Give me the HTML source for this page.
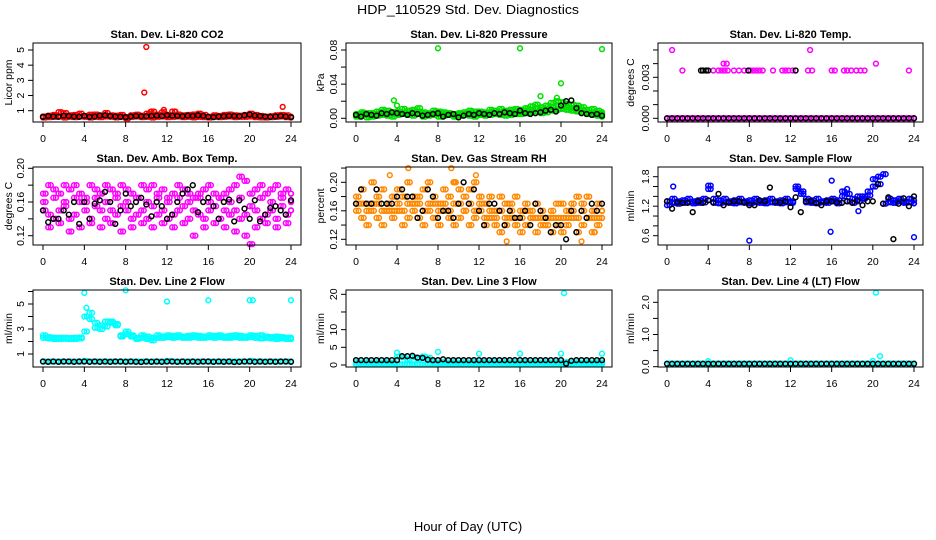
<!DOCTYPE html>
<html><head><meta charset="utf-8"><style>
html,body{margin:0;padding:0;background:#fff;}
svg{display:block;font-family:"Liberation Sans",Arial,sans-serif;}
</style></head><body>
<svg id="chart" width="936" height="540" viewBox="0 0 936 540" xmlns="http://www.w3.org/2000/svg">
<rect x="0" y="0" width="936" height="540" fill="#fff"/>
<text x="468" y="14" font-size="13" text-anchor="middle" textLength="222" lengthAdjust="spacingAndGlyphs">HDP_110529  Std. Dev. Diagnostics</text>
<text x="468" y="531" font-size="13" text-anchor="middle">Hour of Day (UTC)</text>
</svg>
<script>
const hours = [0,0.5,1,1.5,2,2.5,3,3.5,4,4.5,5,5.5,6,6.5,7,7.5,8,8.5,9,9.5,10,10.5,11,11.5,12,12.5,13,13.5,14,14.5,15,15.5,16,16.5,17,17.5,18,18.5,19,19.5,20,20.5,21,21.5,22,22.5,23,23.5,24];
const hoursQ = [0.25,0.75,1.25,1.75,2.25,2.75,3.25,3.75,4.25,4.75,5.25,5.75,6.25,6.75,7.25,7.75,8.25,8.75,9.25,9.75,10.25,10.75,11.25,11.75,12.25,12.75,13.25,13.75,14.25,14.75,15.25,15.75,16.25,16.75,17.25,17.75,18.25,18.75,19.25,19.75,20.25,20.75,21.25,21.75,22.25,22.75,23.25,23.75,24];
const xTicks = [0,4,8,12,16,20,24];

// CO2
const co2RedA = [0.62,0.68,0.72,0.9,0.85,0.7,0.72,0.8,0.66,0.74,0.75,0.7,0.85,0.7,0.68,0.72,0.5,0.7,0.74,0.68,0.8,0.95,0.75,0.9,0.72,0.95,0.75,0.7,0.72,0.75,0.8,0.72,0.6,0.7,0.66,0.72,0.75,0.7,0.68,0.72,0.8,0.72,0.66,0.6,0.64,0.7,0.72,0.7,0.6];
const co2RedB = [0.55,0.58,0.6,0.62,0.55,0.6,0.58,0.62,0.6,0.55,0.6,0.58,0.62,0.6,0.56,0.6,0.58,0.6,0.62,0.58,0.6,0.55,0.6,0.62,0.58,0.6,0.62,0.58,0.6,0.56,0.6,0.58,0.55,0.6,0.58,0.6,0.62,0.58,0.6,0.6,0.62,0.58,0.56,0.55,0.58,0.6,0.62,0.58,0.55];
const co2OutTimes = [9.8,10,11.7,12.8,10.4,23.2];
const co2OutVals = [2.2,5.2,1.05,0.95,0.92,1.25];
const co2Black = [0.6,0.65,0.62,0.6,0.68,0.65,0.62,0.6,0.66,0.6,0.62,0.68,0.7,0.65,0.62,0.6,0.58,0.62,0.65,0.63,0.64,0.66,0.68,0.65,0.7,0.68,0.66,0.64,0.68,0.65,0.7,0.66,0.6,0.58,0.62,0.64,0.66,0.65,0.64,0.7,0.75,0.68,0.65,0.62,0.6,0.62,0.65,0.62,0.58];

// Pressure
const presGreenA = [0.005,0.007,0.006,0.004,0.008,0.01,0.009,0.007,0.008,0.011,0.009,0.01,0.012,0.007,0.006,0.009,0.008,0.007,0.006,0.005,0.006,0.007,0.009,0.008,0.008,0.007,0.01,0.009,0.011,0.009,0.01,0.011,0.01,0.012,0.014,0.016,0.013,0.015,0.018,0.02,0.019,0.017,0.016,0.015,0.013,0.01,0.011,0.009,0.007];
const presGreenB = [0.002,0.003,0.001,0.002,0.003,0.004,0.003,0.002,0.004,0.005,0.004,0.003,0.005,0.002,0.003,0.004,0.002,0.003,0.004,0.002,0.003,0.004,0.003,0.002,0.004,0.003,0.004,0.005,0.004,0.003,0.004,0.005,0.005,0.006,0.007,0.008,0.006,0.007,0.009,0.01,0.011,0.01,0.009,0.008,0.007,0.005,0.004,0.003,0.002];
const presGreenC = [0.004,0.005,0.004,0.006,0.005,0.007,0.006,0.005,0.006,0.007,0.006,0.007,0.008,0.005,0.004,0.006,0.005,0.005,0.004,0.004,0.005,0.005,0.006,0.005,0.006,0.005,0.007,0.006,0.007,0.006,0.007,0.008,0.007,0.009,0.01,0.012,0.01,0.011,0.013,0.015,0.014,0.013,0.012,0.011,0.01,0.007,0.007,0.006,0.005];
const presOutTimes = [3.7,4,8,16,18,19.6,20,24];
const presOutVals = [0.021,0.015,0.082,0.082,0.026,0.024,0.041,0.081];
const presBlack = [0.004,0.002,0.005,0.004,0.003,0.006,0.005,0.007,0.006,0.005,0.004,0.006,0.005,0.003,0.004,0.005,0.006,0.002,0.004,0.005,0.001,0.003,0.005,0.004,0.006,0.005,0.004,0.006,0.005,0.007,0.006,0.005,0.009,0.006,0.005,0.006,0.007,0.009,0.01,0.008,0.015,0.02,0.021,0.012,0.006,0.005,0.004,0.005,0.003];

// Li-820 Temp
const tempMagZero = [0,0,0,0,0,0,0,0,0,0,0,0,0,0,0,0,0,0,0,0,0,0,0,0,0,0,0,0,0,0,0,0,0,0,0,0,0,0,0,0,0,0,0,0,0,0,0,0,0];
const tempMagHiTimes = [0.5,1.5,4.5,5,5.3,5.5,5.6,5.8,5.9,6.5,7,7.5,8.1,8.4,8.7,9,9.3,10.3,11.2,11.5,11.8,12.2,13.7,13.9,14.1,16,16.3,17.2,17.5,17.9,18.4,18.8,19.2,20.3,23.5];
const tempMagHiVals = [0.005,0.0035,0.0035,0.0035,0.0035,0.004,0.0035,0.004,0.0035,0.0035,0.0035,0.0035,0.0035,0.0035,0.0035,0.0035,0.0035,0.0035,0.0035,0.0035,0.0035,0.0035,0.0035,0.005,0.0035,0.0035,0.0035,0.0035,0.0035,0.0035,0.0035,0.0035,0.0035,0.004,0.0035];
const tempBlackZero = [0,0,0,0,0,0,0,0,0,0,0,0,0,0,0,0,0,0,0,0,0,0,0,0,0,0,0,0,0,0,0,0,0,0,0,0,0,0,0,0,0,0,0,0,0,0,0,0,0];
const tempBlackHiTimes = [3.3,3.5,3.8,4,7.9,12.5];
const tempBlackHiVals = [0.0035,0.0035,0.0035,0.0035,0.0035,0.0035];

// Amb box temp
const ambMagA = [0.17,0.18,0.175,0.17,0.18,0.175,0.18,0.17,0.165,0.18,0.175,0.17,0.18,0.175,0.17,0.18,0.175,0.17,0.165,0.18,0.175,0.18,0.17,0.175,0.165,0.17,0.18,0.175,0.17,0.165,0.17,0.175,0.18,0.17,0.165,0.17,0.175,0.18,0.19,0.185,0.17,0.175,0.18,0.17,0.175,0.18,0.17,0.175,0.17];
const ambMagB = [0.15,0.145,0.14,0.15,0.155,0.14,0.145,0.16,0.15,0.14,0.155,0.15,0.14,0.15,0.145,0.155,0.15,0.14,0.145,0.15,0.14,0.155,0.145,0.15,0.14,0.145,0.15,0.155,0.14,0.15,0.145,0.14,0.15,0.155,0.14,0.15,0.145,0.15,0.14,0.145,0.155,0.15,0.14,0.145,0.15,0.14,0.155,0.145,0.15];
const ambMagC = [0.16,0.13,0.165,0.135,0.16,0.125,0.165,0.13,0.16,0.135,0.165,0.13,0.16,0.135,0.165,0.125,0.16,0.13,0.165,0.135,0.16,0.13,0.165,0.135,0.16,0.13,0.165,0.135,0.16,0.12,0.165,0.13,0.16,0.135,0.165,0.13,0.16,0.125,0.165,0.12,0.11,0.13,0.165,0.135,0.16,0.13,0.165,0.135,0.16];
const ambBlack = [0.15,0.136,0.14,0.14,0.15,0.145,0.16,0.134,0.16,0.14,0.158,0.162,0.172,0.16,0.134,0.15,0.17,0.155,0.16,0.165,0.157,0.143,0.16,0.155,0.14,0.145,0.16,0.17,0.175,0.18,0.148,0.16,0.165,0.155,0.14,0.16,0.163,0.137,0.162,0.152,0.14,0.162,0.137,0.145,0.153,0.155,0.15,0.145,0.162];

// Gas stream RH
const rhA = [0.18,0.19,0.17,0.2,0.18,0.19,0.17,0.18,0.19,0.18,0.2,0.17,0.18,0.19,0.2,0.18,0.17,0.19,0.18,0.2,0.19,0.18,0.19,0.2,0.18,0.17,0.18,0.16,0.18,0.17,0.17,0.18,0.16,0.17,0.16,0.17,0.16,0.15,0.16,0.17,0.17,0.16,0.17,0.18,0.17,0.18,0.16,0.17,0.16];
const rhB = [0.16,0.15,0.14,0.16,0.15,0.14,0.16,0.15,0.16,0.14,0.15,0.16,0.15,0.14,0.16,0.15,0.14,0.16,0.15,0.14,0.15,0.16,0.14,0.15,0.16,0.14,0.15,0.14,0.13,0.14,0.15,0.14,0.13,0.14,0.15,0.13,0.14,0.15,0.13,0.14,0.13,0.14,0.15,0.13,0.14,0.15,0.13,0.14,0.15];
const rhC = [0.17,0.17,0.16,0.17,0.17,0.16,0.17,0.16,0.17,0.16,0.17,0.18,0.17,0.16,0.17,0.17,0.16,0.17,0.16,0.17,0.17,0.16,0.17,0.16,0.17,0.15,0.16,0.15,0.16,0.15,0.16,0.15,0.15,0.16,0.15,0.15,0.15,0.14,0.15,0.15,0.15,0.15,0.16,0.15,0.16,0.15,0.15,0.15,0.16];
const rhOutTimes = [3.3,5.1,9.3,9.6,11.7,14.7,22,23.3];
const rhOutVals = [0.21,0.22,0.22,0.2,0.21,0.117,0.117,0.13];
const rhBlack = [0.17,0.19,0.17,0.17,0.19,0.17,0.17,0.17,0.18,0.19,0.18,0.18,0.15,0.16,0.19,0.18,0.15,0.16,0.16,0.15,0.17,0.2,0.17,0.19,0.16,0.14,0.17,0.17,0.16,0.14,0.16,0.15,0.15,0.16,0.14,0.17,0.16,0.15,0.13,0.14,0.14,0.12,0.16,0.13,0.16,0.15,0.17,0.16,0.17];

// Sample flow
const sfBlueA = [1.3,1.35,1.3,1.32,1.35,1.3,1.32,1.35,1.55,1.35,1.32,1.35,1.3,1.32,1.35,1.3,1.32,1.35,1.3,1.32,1.35,1.3,1.32,1.35,1.3,1.55,1.5,1.35,1.32,1.35,1.3,1.32,1.35,1.32,1.5,1.45,1.35,1.4,1.35,1.5,1.6,1.8,1.85,1.35,1.32,1.35,1.3,1.35,1.32];
const sfBlueB = [1.22,1.27,1.25,1.27,1.28,1.26,1.27,1.28,1.62,1.27,1.26,1.28,1.27,1.26,1.28,1.27,1.26,1.28,1.27,1.26,1.28,1.27,1.26,1.28,1.27,1.6,1.45,1.28,1.27,1.26,1.28,1.27,1.3,1.26,1.4,1.3,1.27,1.3,1.4,1.42,1.75,1.65,1.25,1.28,1.27,1.3,1.27,1.28,1.26];
const sfOutTimes = [0.6,8,15.9,16,17.5,18.6,24];
const sfOutVals = [1.6,0.5,0.68,1.72,1.55,1.1,0.57];
const sfBlack = [1.3,1.15,1.28,1.27,1.27,1.08,1.3,1.27,1.32,1.28,1.45,1.22,1.28,1.3,1.3,1.28,1.22,1.22,1.32,1.3,1.58,1.29,1.28,1.3,1.18,1.38,1.08,1.3,1.3,1.27,1.22,1.3,1.3,1.28,1.27,1.3,1.27,1.32,1.22,1.3,1.3,1.65,1.25,1.38,0.53,1.25,1.36,1.2,1.4];

// Line 2 flow
const l2CyanA = [2.5,2.35,2.3,2.3,2.3,2.28,2.3,2.32,2.8,4.3,3.5,3.3,3.6,3.5,3.4,2.5,2.8,2.5,2.3,2.5,2.4,2.3,2.5,2.4,2.5,2.45,2.5,2.4,2.45,2.5,2.45,2.4,2.5,2.45,2.5,2.4,2.45,2.5,2.45,2.4,2.5,2.45,2.5,2.4,2.35,2.4,2.35,2.3,2.3];
const l2CyanB = [2.3,2.25,2.2,2.2,2.22,2.2,2.2,2.25,4.0,3.8,3.1,3.0,3.2,3.6,3.3,2.4,2.6,2.4,2.2,2.3,2.2,2.1,2.3,2.3,2.35,2.3,2.35,2.3,2.3,2.35,2.3,2.3,2.35,2.3,2.35,2.3,2.3,2.35,2.3,2.3,2.35,2.3,2.25,2.3,2.25,2.2,2.25,2.2,2.2];
const l2CyanLow = [0.4,0.4,0.4,0.4,0.4,0.4,0.4,0.4,0.45,0.4,0.4,0.4,0.4,0.4,0.4,0.4,0.4,0.4,0.4,0.4,0.4,0.4,0.4,0.4,0.45,0.4,0.4,0.4,0.4,0.4,0.4,0.4,0.4,0.4,0.4,0.4,0.4,0.4,0.4,0.4,0.45,0.4,0.4,0.4,0.4,0.4,0.4,0.4,0.4];
const l2OutTimes = [4,4.2,8,12,16,20,20.3,24];
const l2OutVals = [5.9,4.7,6.1,5.2,5.3,5.3,5.3,5.3];
const l2Black = [0.4,0.38,0.4,0.38,0.4,0.4,0.38,0.4,0.4,0.38,0.4,0.38,0.4,0.38,0.4,0.4,0.38,0.4,0.38,0.36,0.4,0.38,0.4,0.38,0.4,0.4,0.38,0.4,0.38,0.4,0.38,0.4,0.4,0.38,0.4,0.38,0.4,0.36,0.38,0.4,0.4,0.38,0.4,0.38,0.4,0.38,0.4,0.4,0.38];

// Line 3 flow
const l3CyanA = [0.2,0.2,0.2,0.2,0.2,0.2,0.2,0.2,0.2,0.2,0.2,0.2,0.2,0.2,0.2,0.2,0.2,0.2,0.2,0.2,0.2,0.2,0.2,0.2,0.2,0.2,0.2,0.2,0.2,0.2,0.2,0.2,0.2,0.2,0.2,0.2,0.2,0.2,0.2,0.2,0.2,0.2,0.2,0.2,0.2,0.2,0.2,0.2,0.2];
const l3CyanB = [0.8,0.7,0.8,0.7,0.8,0.7,0.8,0.7,2.4,2.2,1.6,2.2,1.8,2.4,2.0,0.8,0.7,0.8,0.7,0.8,0.7,0.8,0.7,0.8,0.7,0.8,0.7,0.8,0.7,0.8,0.7,0.8,0.7,0.8,0.7,0.8,0.7,0.8,0.7,0.8,0.7,0.8,0.7,0.8,0.7,0.8,0.7,0.8,0.7];
const l3OutTimes = [4,8,12,16,20,20.3,24];
const l3OutVals = [3.5,3.7,3.2,3.2,3.2,20.3,3.2];
const l3Black = [1.4,1.4,1.4,1.4,1.4,1.4,1.4,1.4,1.4,2.5,2.5,2.6,2.1,2.0,1.5,1.4,1.4,1.6,1.4,1.4,1.4,1.4,1.4,1.4,1.4,1.4,1.4,1.4,1.4,1.4,1.4,1.4,1.4,1.4,1.4,1.4,1.4,1.4,1.4,1.4,1.4,0.4,1.2,1.4,1.4,1.4,1.4,1.4,1.4];

// Line 4 flow
const l4Cyan = [0.1,0.1,0.1,0.1,0.1,0.1,0.1,0.1,0.1,0.1,0.1,0.1,0.1,0.1,0.1,0.1,0.1,0.1,0.1,0.1,0.1,0.1,0.1,0.1,0.1,0.1,0.1,0.1,0.1,0.1,0.1,0.1,0.1,0.1,0.1,0.1,0.1,0.1,0.1,0.1,0.1,0.1,0.1,0.1,0.1,0.1,0.1,0.1,0.1];
const l4OutTimes = [4,12,20,20.3,20.7];
const l4OutVals = [0.17,0.2,0.18,2.3,0.33];
const l4Black = [0.09,0.09,0.09,0.09,0.09,0.09,0.09,0.09,0.09,0.09,0.09,0.09,0.09,0.09,0.09,0.09,0.09,0.09,0.09,0.09,0.09,0.09,0.09,0.09,0.09,0.09,0.09,0.09,0.09,0.09,0.09,0.09,0.09,0.09,0.09,0.09,0.09,0.09,0.09,0.09,0.09,0.09,0.09,0.09,0.09,0.09,0.09,0.09,0.09];

const NS = "http://www.w3.org/2000/svg";
const svg = document.getElementById('chart');
function mk(tag, attrs, parent){ const e=document.createElementNS(NS,tag); for(const k in attrs) e.setAttribute(k,attrs[k]); (parent||svg).appendChild(e); return e; }

const cols = [{bl:33,br:301,x0:43,x24:291,lab:8},{bl:346,br:612,x0:356,x24:602,lab:320},{bl:658,br:923,x0:667,x24:914,lab:630}];
const rows = [{bt:43,bb:122},{bt:167,bb:245},{bt:290,bb:367}];

const panels = [
 {name:'co2',title:'Stan. Dev. Li-820 CO2',ylab:'Licor ppm',c:0,r:0,vA:1,pA:110.7,vB:5,pB:50,ticks:[1,2,3,4,5],labels:['1','2','3','4','5'],
  series:[['#ff0000',hours,co2RedB],['#ff0000',hoursQ,co2RedB],['#ff0000',hours,co2RedA],['#ff0000',hoursQ,co2RedA],['#ff0000',co2OutTimes,co2OutVals],['#000',hours,co2Black]]},
 {name:'pressure',title:'Stan. Dev. Li-820 Pressure',ylab:'kPa',c:1,r:0,vA:0,pA:118.3,vB:0.08,pB:50,ticks:[0,0.02,0.04,0.06,0.08],labels:['0.00','','0.04','','0.08'],
  series:[['#00e000',hours,presGreenB],['#00e000',hoursQ,presGreenB],['#00e000',hours,presGreenC],['#00e000',hoursQ,presGreenC],['#00e000',hours,presGreenA],['#00e000',hoursQ,presGreenA],['#00e000',presOutTimes,presOutVals],['#000',hours,presBlack]]},
 {name:'li820-temp',title:'Stan. Dev. Li-820 Temp.',ylab:'degrees C',c:2,r:0,vA:0,pA:118.3,vB:0.003,pB:77.3,ticks:[0,0.001,0.002,0.003,0.004,0.005],labels:['0.000','','','0.003','',''],
  series:[['#ff00ff',hours,tempMagZero],['#ff00ff',hoursQ,tempMagZero],['#ff00ff',tempMagHiTimes,tempMagHiVals],['#000',hours,tempBlackZero],['#000',tempBlackHiTimes,tempBlackHiVals]]},
 {name:'amb-box-temp',title:'Stan. Dev. Amb. Box Temp.',ylab:'degrees C',c:0,r:1,vA:0.12,pA:235.7,vB:0.2,pB:168.3,ticks:[0.12,0.14,0.16,0.18,0.2],labels:['0.12','','0.16','','0.20'],
  series:[['#ff00ff',hours,ambMagC],['#ff00ff',hoursQ,ambMagB],['#ff00ff',hours,ambMagB],['#ff00ff',hoursQ,ambMagA],['#ff00ff',hours,ambMagA],['#ff00ff',hoursQ,ambMagC],['#000',hours,ambBlack]]},
 {name:'gas-rh',title:'Stan. Dev. Gas Stream RH',ylab:'percent',c:1,r:1,vA:0.12,pA:239.3,vB:0.2,pB:182.3,ticks:[0.12,0.14,0.16,0.18,0.2,0.22],labels:['0.12','','0.16','','0.20',''],
  series:[['#ff8800',hours,rhB],['#ff8800',hoursQ,rhA],['#ff8800',hours,rhC],['#ff8800',hoursQ,rhB],['#ff8800',hours,rhA],['#ff8800',hoursQ,rhC],['#ff8800',rhOutTimes,rhOutVals],['#000',hours,rhBlack]]},
 {name:'sample-flow',title:'Stan. Dev. Sample Flow',ylab:'ml/min',c:2,r:1,vA:0.6,pA:235.7,vB:1.8,pB:176.7,ticks:[0.6,0.8,1,1.2,1.4,1.6,1.8],labels:['0.6','','','1.2','','','1.8'],
  series:[['#0000ff',hours,sfBlueB],['#0000ff',hoursQ,sfBlueB],['#0000ff',hours,sfBlueA],['#0000ff',hoursQ,sfBlueA],['#0000ff',sfOutTimes,sfOutVals],['#000',hours,sfBlack]]},
 {name:'line2-flow',title:'Stan. Dev. Line 2 Flow',ylab:'ml/min',c:0,r:2,vA:1,pA:354,vB:5,pB:304,ticks:[1,2,3,4,5,6],labels:['1','','3','','5',''],
  series:[['#00ffff',hours,l2CyanLow],['#00ffff',hoursQ,l2CyanLow],['#00ffff',hours,l2CyanB],['#00ffff',hoursQ,l2CyanB],['#00ffff',hours,l2CyanA],['#00ffff',hoursQ,l2CyanA],['#00ffff',l2OutTimes,l2OutVals],['#000',hours,l2Black]]},
 {name:'line3-flow',title:'Stan. Dev. Line 3 Flow',ylab:'ml/min',c:1,r:2,vA:0,pA:365,vB:20,pB:294.3,ticks:[0,5,10,15,20],labels:['0','5','10','','20'],
  series:[['#00ffff',hours,l3CyanA],['#00ffff',hoursQ,l3CyanA],['#00ffff',hours,l3CyanB],['#00ffff',hoursQ,l3CyanB],['#00ffff',l3OutTimes,l3OutVals],['#000',hours,l3Black]]},
 {name:'line4-flow',title:'Stan. Dev. Line 4 (LT) Flow',ylab:'ml/min',c:2,r:2,vA:0,pA:366.7,vB:2,pB:302.3,ticks:[0,0.5,1,1.5,2],labels:['0.0','','1.0','','2.0'],
  series:[['#00ffff',hours,l4Cyan],['#00ffff',hoursQ,l4Cyan],['#00ffff',l4OutTimes,l4OutVals],['#000',hours,l4Black]]}
];

panels.forEach(p=>{
  const col=cols[p.c], row=rows[p.r];
  const g=mk('g',{});
  
  
  const xs = v => col.x0 + (v/24)*(col.x24-col.x0);
  const ys = v => p.pA + (v-p.vA)*(p.pB-p.pA)/(p.vB-p.vA);
  const t=mk('text',{x:(col.bl+col.br)/2,y:row.bt-5,'font-size':11,'font-weight':'bold','text-anchor':'middle'},g);
  t.textContent=p.title;
  
  
  const yl=mk('text',{x:0,y:0,'font-size':10.5,'text-anchor':'middle',transform:`translate(${col.lab+4},${(row.bt+row.bb)/2}) rotate(-90)`},g);
  yl.textContent=p.ylab;
  
  
  const pts=mk('g',{fill:'none','stroke-width':1.5},g);
  
  
  p.series.forEach(s=>{
    const [color,tx,vy]=s;
    for(let i=0;i<vy.length;i++){
      const c=mk('circle',{cx:xs(tx[i]).toFixed(1),cy:ys(vy[i]).toFixed(1),r:2.4,stroke:color},pts);
      
      
    }
  });
  const box=mk('rect',{x:col.bl,y:row.bt,width:col.br-col.bl,height:row.bb-row.bt,fill:'none',stroke:'#000','stroke-width':1},g);
  
  
  const xa=mk('g',{stroke:'#000','stroke-width':1},g);
  
  
  mk('line',{x1:xs(0),x2:xs(24),y1:row.bb,y2:row.bb},xa);
  xTicks.forEach(v=>{
    mk('line',{x1:xs(v),x2:xs(v),y1:row.bb,y2:row.bb+5},xa);
    const tl=mk('text',{x:xs(v),y:row.bb+20,'font-size':10.5,'text-anchor':'middle',stroke:'none'},g);
    tl.textContent=v;
    
    
  });
  const ya=mk('g',{stroke:'#000','stroke-width':1},g);
  
  
  mk('line',{x1:col.bl,x2:col.bl,y1:ys(p.ticks[0]),y2:ys(p.ticks[p.ticks.length-1])},ya);
  p.ticks.forEach((v,i)=>{
    const y=ys(v);
    mk('line',{x1:col.bl-5,x2:col.bl,y1:y,y2:y},ya);
    if(p.labels[i]){
      const tl=mk('text',{x:0,y:0,'font-size':10.5,'text-anchor':'middle',transform:`translate(${col.bl-9},${y}) rotate(-90)`},g);
      tl.textContent=p.labels[i];
      
      
    }
  });
});
</script>
</body></html>
